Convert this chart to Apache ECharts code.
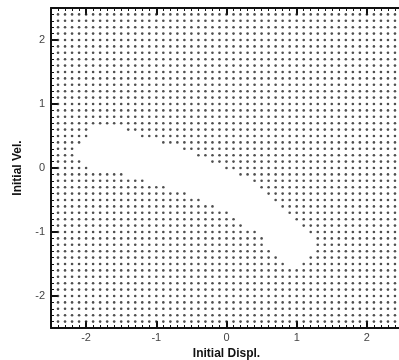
<!DOCTYPE html>
<html><head><meta charset="utf-8">
<script src="https://cdn.jsdelivr.net/npm/echarts@6/dist/echarts.min.js"></script>
<style>html,body{margin:0;padding:0;background:#fff}#c{width:399px;height:360px}</style>
</head><body><div id="c"></div>
<script>
// Tick labels
const majorTicks = [-2, -1, 0, 1, 2];
// Lattice of initial conditions (in tenths): -2.4 .. 2.4, step 0.1
const latticeFirst = -24, latticeLast = 24;
// Rows of the lattice where points are absent
const holeRowY  = [0.6, 0.5, 0.4, 0.3, 0.2, 0.1, 0.0, -0.1, -0.2, -0.3, -0.4, -0.5, -0.6, -0.7, -0.8, -0.9, -1.0, -1.1, -1.2, -1.3, -1.4, -1.5];
const holeFromX = [-1.9, -1.9, -2.0, -2.1, -2.1, -2.0, -1.9, -1.4, -1.1, -0.8, -0.5, -0.3, -0.1, 0.1, 0.2, 0.3, 0.5, 0.6, 0.6, 0.7, 0.8, 0.9];
const holeToX   = [-1.5, -1.3, -1.0, -0.7, -0.5, -0.3, -0.1, 0.1, 0.3, 0.4, 0.5, 0.6, 0.7, 0.8, 0.9, 1.0, 1.1, 1.2, 1.2, 1.2, 1.1, 1.0];

const minorVals = [];
for (let k = -25; k <= 25; k++) minorVals.push(k / 10);

const points = [];
for (let j = latticeFirst; j <= latticeLast; j++) {
  const r = holeRowY.findIndex(v => Math.round(v * 10) === j);
  for (let i = latticeFirst; i <= latticeLast; i++) {
    if (r >= 0 && i >= Math.round(holeFromX[r] * 10) && i <= Math.round(holeToX[r] * 10)) continue;
    points.push([i / 10, j / 10]);
  }
}

const FONT = 'Liberation Sans, Arial, sans-serif';
const lineCol = '#111';
function axisBase(extra) {
  return Object.assign({
    type: 'value', min: -2.5, max: 2.5, splitLine: { show: false },
    axisLine: { show: false, onZero: false },
    axisLabel: { show: false },
    axisTick: { show: false }
  }, extra);
}
const majorTick = { show: true, inside: true, length: 7, customValues: majorTicks, lineStyle: { color: lineCol, width: 2 } };
const minorTick = { show: true, inside: true, length: 3, customValues: minorVals, lineStyle: { color: lineCol, width: 1 } };

const chart = echarts.init(document.getElementById('c'), null, { renderer: 'canvas' });
chart.setOption({
  animation: false,
  backgroundColor: '#fff',
  grid: { left: 51, top: 8, width: 351, height: 320, containLabel: false, outerBoundsMode: 'none' },
  xAxis: [
    axisBase({
      position: 'bottom',
      axisLine: { show: true, onZero: false, lineStyle: { color: lineCol, width: 2 } },
      axisTick: majorTick,
      axisLabel: { show: true, customValues: majorTicks, color: '#444', fontSize: 11, fontFamily: FONT, margin: 4 },
      name: 'Initial Displ.', nameLocation: 'middle', nameGap: 17,
      nameTextStyle: { fontWeight: 'bold', fontSize: 12, color: '#111', fontFamily: FONT }
    }),
    axisBase({ position: 'bottom', axisTick: minorTick }),
    axisBase({
      position: 'top',
      axisLine: { show: true, onZero: false, lineStyle: { color: lineCol, width: 2 } },
      axisTick: majorTick
    }),
    axisBase({ position: 'top', axisTick: minorTick })
  ],
  yAxis: [
    axisBase({
      position: 'left',
      axisLine: { show: true, onZero: false, lineStyle: { color: lineCol, width: 2 } },
      axisTick: majorTick,
      axisLabel: { show: true, customValues: majorTicks, color: '#444', fontSize: 11, fontFamily: FONT, margin: 6 },
      name: 'Initial Vel.', nameLocation: 'middle', nameGap: 27,
      nameTextStyle: { fontWeight: 'bold', fontSize: 12, color: '#111', fontFamily: FONT }
    }),
    axisBase({ position: 'left', axisTick: minorTick })
  ],
  series: [{
    type: 'scatter',
    xAxisIndex: 0, yAxisIndex: 0,
    data: points,
    symbol: 'circle',
    symbolSize: 2.6,
    itemStyle: { color: '#222' },
    silent: true
  }]
});
</script>
</body></html>
